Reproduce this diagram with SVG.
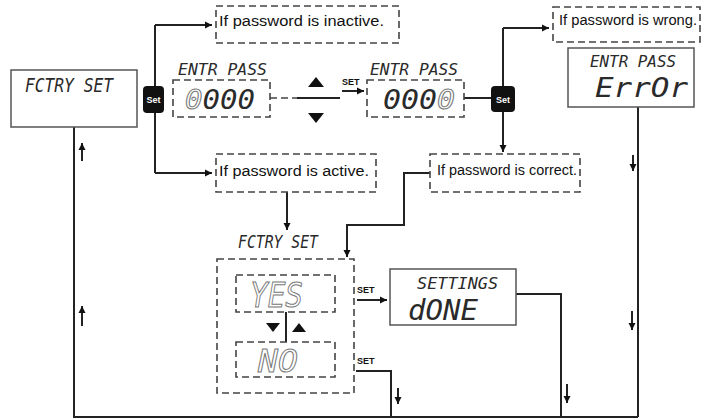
<svg xmlns="http://www.w3.org/2000/svg" width="701" height="419" viewBox="0 0 701 419">
<style>
.bg{fill:#fff}
.ln{fill:none;stroke:#222;stroke-width:2}
.dash{fill:none;stroke:#444;stroke-width:1.6;stroke-dasharray:7,4}
.box{fill:#fff;stroke:#555;stroke-width:1.5}
.lbl{font-family:"Liberation Sans",Arial,sans-serif;font-size:14px;fill:#111}
.seg{font-family:"DejaVu Sans Mono",monospace;font-style:oblique;fill:#2a2a2a}
.hol{fill:#fff;stroke:#777;stroke-width:1}
.btn{fill:#111}
.btxt{font-family:"Liberation Sans",Arial,sans-serif;font-size:9px;font-weight:bold;fill:#fff}
.set{font-family:"Liberation Sans",Arial,sans-serif;font-size:9px;font-weight:bold;fill:#111}
.tri{fill:#111}
</style>
<defs>
<marker id="ah" markerUnits="userSpaceOnUse" markerWidth="8" markerHeight="8" refX="7" refY="4" orient="auto">
<path d="M0,0.5 L7,4 L0,7.5 Z" fill="#111"/>
</marker>
</defs>
<rect class="bg" x="0" y="0" width="701" height="419"/>

<g id="connectors">
<path class="ln" d="M155,25 V173"/>
<path class="ln" d="M155,25 H212" marker-end="url(#ah)"/>
<path class="ln" d="M155,173 H212" marker-end="url(#ah)"/>
<path class="ln" d="M287,192 V230" marker-end="url(#ah)"/>
<path class="dash" d="M270,98 H297"/>
<path class="ln" d="M297,98 H340"/>
<path class="ln" d="M342,91 H364" stroke-width="1.6" marker-end="url(#ah)"/>
<path class="ln" d="M464,98 H492"/>
<path class="ln" d="M503,28 V152" marker-end="url(#ah)"/>
<path class="ln" d="M503,28 H549" marker-end="url(#ah)"/>
<path class="ln" d="M430,173 H404 V225 H347 V257" marker-end="url(#ah)"/>
<path class="ln" d="M286,312 V342"/>
<path class="ln" d="M357,300 H387" marker-end="url(#ah)"/>
<path class="ln" d="M356,371 H391 V417"/>
<path class="ln" d="M516,294 H561 V417"/>
<path class="ln" d="M638,107 V417"/>
<path class="ln" d="M74,127 V417 H638"/>
<path class="ln" d="M82,161 V143" stroke-width="1.6" marker-end="url(#ah)"/>
<path class="ln" d="M82,326 V306" stroke-width="1.6" marker-end="url(#ah)"/>
<path class="ln" d="M633,155 V171" stroke-width="1.6" marker-end="url(#ah)"/>
<path class="ln" d="M632,311 V330" stroke-width="1.6" marker-end="url(#ah)"/>
<path class="ln" d="M567,384 V403" stroke-width="1.6" marker-end="url(#ah)"/>
<path class="ln" d="M398,388 V404" stroke-width="1.6" marker-end="url(#ah)"/>
<text class="set" x="342" y="85">SET</text>
<text class="set" x="357" y="293">SET</text>
<text class="set" x="357" y="364">SET</text>
<polygon class="tri" points="308,87 316,77 324,87"/>
<polygon class="tri" points="308,113 324,113 316,123"/>
<polygon class="tri" points="266,323 280,323 273,332"/>
<polygon class="tri" points="292,332 306,332 299,323"/>
</g>

<g id="fctry-set-top">
<rect class="box" x="11" y="70" width="126" height="57"/>
<text class="seg" x="25" y="92" font-size="19" textLength="88" lengthAdjust="spacingAndGlyphs">FCTRY SET</text>
</g>

<g id="set-button-1">
<rect class="btn" x="143" y="86" width="21" height="27" rx="4"/>
<text class="btxt" x="153.5" y="103" text-anchor="middle">Set</text>
</g>

<g id="if-inactive">
<rect class="dash" x="216" y="6" width="183" height="37"/>
<text class="lbl" x="219" y="26" textLength="165" lengthAdjust="spacingAndGlyphs">If password is inactive.</text>
</g>

<g id="if-active">
<rect class="dash" x="216" y="154" width="160" height="38"/>
<text class="lbl" x="219" y="176" textLength="150" lengthAdjust="spacingAndGlyphs">If password is active.</text>
</g>

<g id="entr-pass-1">
<text class="seg" x="178" y="75" font-size="16" textLength="89" lengthAdjust="spacingAndGlyphs">ENTR PASS</text>
<rect class="dash" x="173" y="80" width="97" height="37"/>
<text class="seg" x="185" y="109" font-size="27" textLength="70" lengthAdjust="spacingAndGlyphs"><tspan class="hol">0</tspan>000</text>
</g>

<g id="entr-pass-2">
<text class="seg" x="370" y="75" font-size="16" textLength="88" lengthAdjust="spacingAndGlyphs">ENTR PASS</text>
<rect class="dash" x="367" y="80" width="97" height="37"/>
<text class="seg" x="383" y="109" font-size="27" textLength="72" lengthAdjust="spacingAndGlyphs">000<tspan class="hol">0</tspan></text>
</g>

<g id="set-button-2">
<rect class="btn" x="491" y="86" width="24" height="26" rx="4"/>
<text class="btxt" x="503" y="102.5" text-anchor="middle">Set</text>
</g>

<g id="if-wrong">
<rect class="dash" x="553" y="7" width="147" height="35"/>
<text class="lbl" x="559" y="25" textLength="138" lengthAdjust="spacingAndGlyphs">If password is wrong.</text>
</g>

<g id="entr-pass-error">
<rect class="box" x="568" y="48" width="126" height="59"/>
<text class="seg" x="590" y="67" font-size="16" textLength="86" lengthAdjust="spacingAndGlyphs">ENTR PASS</text>
<text class="seg" x="595" y="97" font-size="26" textLength="93" lengthAdjust="spacingAndGlyphs">ErrOr</text>
</g>

<g id="if-correct">
<rect class="dash" x="430" y="154" width="150" height="38"/>
<text class="lbl" x="437" y="175" textLength="140" lengthAdjust="spacingAndGlyphs">If password is correct.</text>
</g>

<g id="fctry-set-select">
<text class="seg" x="238" y="248" font-size="18" textLength="80" lengthAdjust="spacingAndGlyphs">FCTRY SET</text>
<rect class="dash" x="217" y="259" width="137" height="134"/>
</g>

<g id="yes">
<rect class="dash" x="236" y="275" width="99" height="37"/>
<text class="seg hol" x="250" y="307" font-size="33" textLength="53" lengthAdjust="spacingAndGlyphs">YES</text>
</g>

<g id="no">
<rect class="dash" x="236" y="342" width="99" height="35"/>
<text class="seg hol" x="258" y="372" font-size="32" textLength="40" lengthAdjust="spacingAndGlyphs">NO</text>
</g>

<g id="settings-done">
<rect class="box" x="390" y="269" width="126" height="56"/>
<text class="seg" x="417" y="289" font-size="16" textLength="81" lengthAdjust="spacingAndGlyphs">SETTINGS</text>
<text class="seg" x="408" y="320" font-size="28" textLength="70" lengthAdjust="spacingAndGlyphs">dONE</text>
</g>
</svg>
